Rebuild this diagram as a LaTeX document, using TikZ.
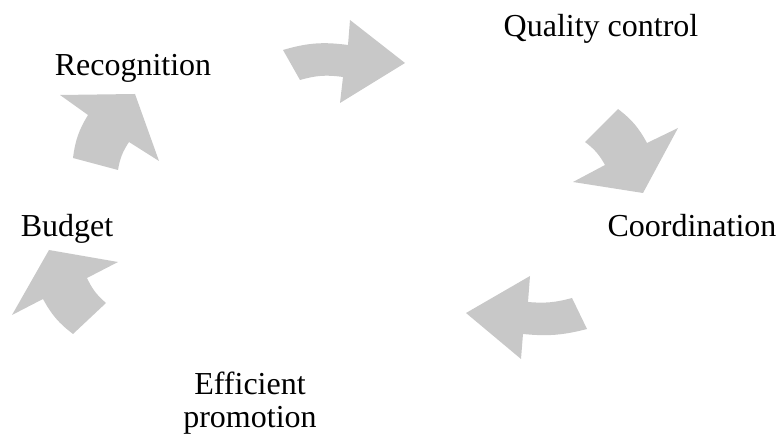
\documentclass[tikz,border=0pt]{standalone}
\usepackage{fontspec}
\setmainfont{Liberation Serif}
\usepackage{xcolor}
\definecolor{cycleink}{HTML}{000000}
\definecolor{cyclegray}{HTML}{C8C8C8}

\begin{document}
\begin{tikzpicture}[
  x=0.5pt, y=-0.5pt,
  steplabel/.style={
    text=cycleink,
    font=\fontsize{16}{16.5}\selectfont,
    align=center,
    anchor=base,
    inner sep=0pt
  },
  cyclearrow/.style={
    fill=cyclegray,
    draw=none
  }
]
\useasboundingbox (0,0) rectangle (781,442);

\node[steplabel] (quality) at (601,37) {Quality control};
\node[steplabel] (coord) at (692,237) {Coordination};
\node[steplabel] (promo) at (250,428) {Efficient\\promotion};
\node[steplabel] (budget) at (67,237) {Budget};
\node[steplabel] (recog) at (133,76) {Recognition};

% curved arrows of the cycle
\fill[cyclearrow] (283,50) to[bend left=12] (348,45) -- (350,20) -- (405,63)
  -- (340,103) -- (343,77) to[bend right=12] (300,80) -- cycle;
\fill[cyclearrow] (618,109) to[bend left=12] (647,143) -- (678,128) -- (643,193)
  -- (573,182) -- (605,165) to[bend right=12] (585,142) -- cycle;
\fill[cyclearrow] (587,329) to[bend left=10] (523,334) -- (521,359) -- (466,313)
  -- (530,276) -- (528,302) to[bend right=10] (572,298) -- cycle;
\fill[cyclearrow] (73,334) to[bend left=12] (43,299) -- (12,315) -- (49,250)
  -- (118,262) -- (87,278) to[bend right=12] (106,303) -- cycle;
\fill[cyclearrow] (73,158) to[bend left=12] (88,115) -- (60,95) -- (135,94)
  -- (159,161) -- (129,142) to[bend right=12] (118,170) -- cycle;

\end{tikzpicture}
\end{document}
